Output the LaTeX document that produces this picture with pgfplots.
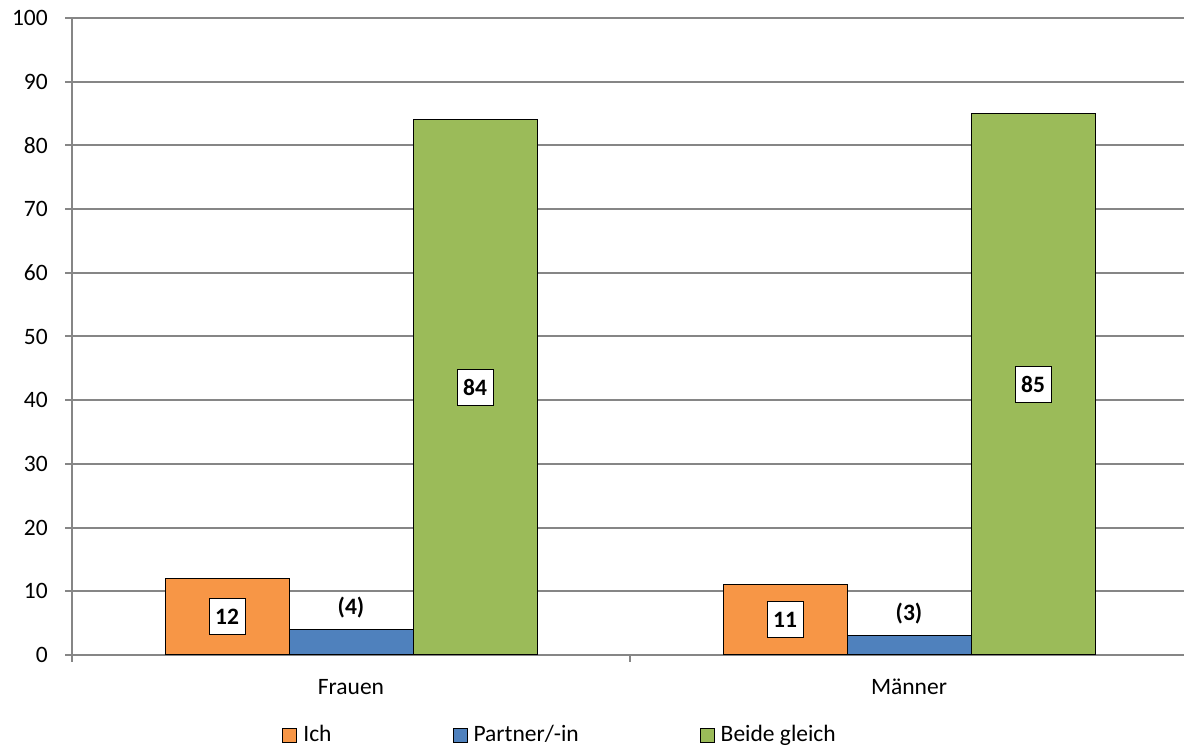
\documentclass[border=0pt]{standalone}
\usepackage{fontspec}
\setmainfont{Carlito}
\usepackage{pgfplots}
\pgfplotsset{compat=1.18}
\definecolor{cIch}{RGB}{247,150,70}
\definecolor{cPart}{RGB}{79,129,189}
\definecolor{cBeide}{RGB}{155,187,89}
\definecolor{gridc}{RGB}{134,134,134}
\begin{document}
\fontsize{23.5}{28}\selectfont
\begin{tikzpicture}
\useasboundingbox (0,0) rectangle (1184pt,747pt);
\begin{axis}[
  at={(72pt,92pt)}, anchor=south west,
  scale only axis, width=1112pt, height=637pt,
  xmin=-0.5, xmax=1.4928, ymin=0, ymax=100,
  /pgf/number format/assume math mode=true,
  axis x line=bottom, axis y line=left,
  axis line style={-, gridc, line width=2pt},
  ytick={0,10,...,100},
  ymajorgrids, grid style={gridc, line width=2pt},
  xtick={0,1}, xticklabels={Frauen, M\"anner},
  minor xtick={-0.5,0.5},
  major x tick style={draw=none},
  minor x tick style={gridc, line width=2pt},
  y tick style={gridc, line width=2pt},
  major tick length=7pt, minor tick length=7pt,
  tick align=outside,
  yticklabel style={inner sep=0pt, xshift=-17pt},
  xticklabel style={anchor=base, inner sep=0pt, yshift=-33pt},
  ybar=0pt, bar width=124pt,
  legend style={at={(axis description cs:0.438,-0.1256)}, anchor=center, draw=none, fill=none,
    inner sep=0pt, nodes={inner sep=0pt},
    /tikz/every odd column/.style={column sep=6pt},
    /tikz/every even column/.style={column sep=121pt}},
  legend columns=3,
  legend image code/.code={\draw[#1, line width=1pt] (0pt,-7pt) rectangle (14pt,7pt);},
]
\addplot[fill=cIch, draw=black, line width=1pt,
  visualization depends on={rawy/2 \as \halfy},
  nodes near coords,
  nodes near coords style={anchor=center, shift={(axis direction cs:0,-\halfy)},
    fill=white, draw=black, line width=1pt, font=\bfseries,
    minimum width=36pt, minimum height=36pt, inner sep=3pt}]
  coordinates {(0,12) (1,11)};
\addplot[fill=cPart, draw=black, line width=1pt,
  nodes near coords={(\pgfmathprintnumber{\pgfplotspointmeta})},
  nodes near coords style={anchor=center, yshift=22pt, font=\bfseries}]
  coordinates {(0,4) (1,3)};
\addplot[fill=cBeide, draw=black, line width=1pt,
  visualization depends on={rawy/2 \as \halfy},
  nodes near coords,
  nodes near coords style={anchor=center, shift={(axis direction cs:0,-\halfy)},
    fill=white, draw=black, line width=1pt, font=\bfseries,
    minimum width=36pt, minimum height=36pt, inner sep=3pt}]
  coordinates {(0,84) (1,85)};
\legend{Ich, Partner/-in, Beide gleich}
\end{axis}
\end{tikzpicture}
\end{document}
